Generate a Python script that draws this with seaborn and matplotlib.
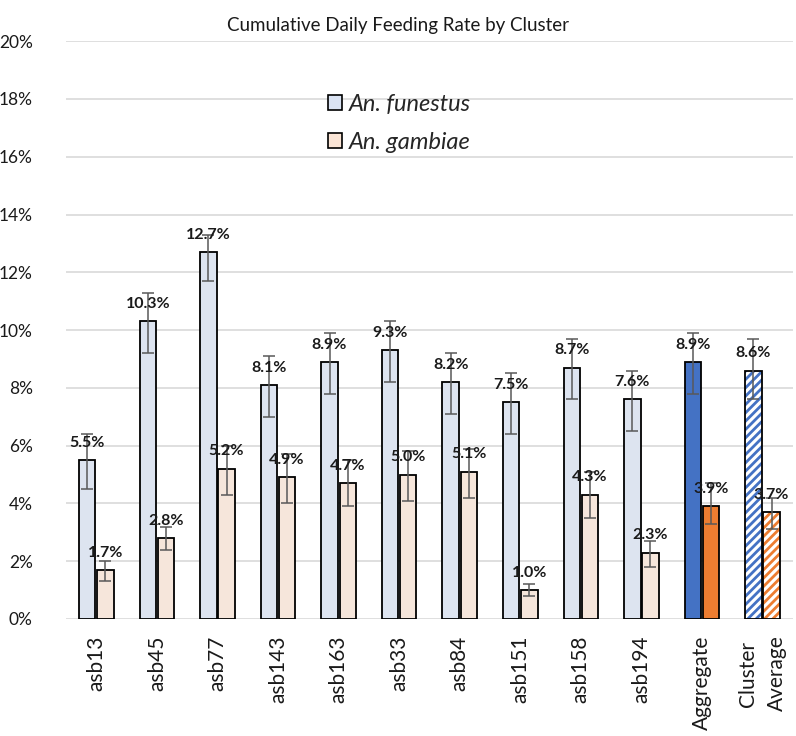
import pandas as pd
import seaborn as sns
import matplotlib.pyplot as plt
from matplotlib.patches import Patch
from matplotlib.ticker import PercentFormatter

# valores (%)
clusters = ['asb13', 'asb45', 'asb77', 'asb143', 'asb163', 'asb33', 'asb84',
            'asb151', 'asb158', 'asb194', 'Aggregate', 'Cluster\nAverage']
especies = ['An. funestus', 'An. gambiae']

funestus = [5.5, 10.3, 12.7, 8.1, 8.9, 9.3, 8.2, 7.5, 8.7, 7.6, 8.9, 8.6]
funestus_low = [4.5, 9.2, 11.7, 7.0, 7.8, 8.2, 7.1, 6.4, 7.6, 6.5, 7.8, 7.6]
funestus_high = [6.4, 11.3, 13.3, 9.1, 9.9, 10.3, 9.2, 8.5, 9.7, 8.6, 9.9, 9.7]

gambiae = [1.7, 2.8, 5.2, 4.9, 4.7, 5.0, 5.1, 1.0, 4.3, 2.3, 3.9, 3.7]
gambiae_low = [1.3, 2.4, 4.3, 4.0, 3.9, 4.1, 4.2, 0.8, 3.5, 1.8, 3.3, 3.1]
gambiae_high = [2.0, 3.2, 6.0, 5.7, 5.5, 5.8, 5.9, 1.2, 5.1, 2.7, 4.7, 4.2]

cores = ['#DAE3F3', '#FBE5D6']
cores_fortes = ['#4472C4', '#ED7D31']

df = pd.DataFrame({
    'cluster': clusters * 2,
    'especie': [especies[0]] * len(clusters) + [especies[1]] * len(clusters),
    'valor': funestus + gambiae,
})

sns.set_style('white')
plt.rcParams['font.family'] = ['Lato', 'DejaVu Sans']
plt.rcParams['hatch.linewidth'] = 2.0

fig = plt.figure(figsize=(7.96, 7.36), dpi=100)
ax = fig.add_axes([0.083, 0.159, 0.913, 0.785])

sns.barplot(data=df, x='cluster', y='valor', hue='especie', order=clusters,
            hue_order=especies, palette=cores, width=0.6, gap=0.1,
            errorbar=None, edgecolor='black', linewidth=1.3, legend=False, ax=ax)

lows = [funestus_low, gambiae_low]
highs = [funestus_high, gambiae_high]
vals = [funestus, gambiae]

barras = list(ax.containers)
for i, cont in enumerate(barras):
    for j, bar in enumerate(cont):
        x = bar.get_x() + bar.get_width() / 2
        v = vals[i][j]
        # barras Aggregate e Cluster Average
        if clusters[j] == 'Aggregate':
            bar.set_facecolor(cores_fortes[i])
        elif clusters[j] == 'Cluster\nAverage':
            bar.set_facecolor('white')
            bar.set_hatch('////')
            bar.set_edgecolor(cores_fortes[i])
            bar.set_linewidth(0)
            # contorno preto por cima da hachura
            ax.bar(x, v, width=bar.get_width(), fill=False,
                   edgecolor='black', linewidth=1.3, zorder=2.5)
        ax.errorbar(x, v, yerr=[[v - lows[i][j]], [highs[i][j] - v]],
                    fmt='none', ecolor='#595959', elinewidth=1.1, capsize=4,
                    capthick=1.1, zorder=3)
        ax.text(x, v + 0.6, f'{v:.1f}%', ha='center', va='center',
                fontsize=11.5, fontweight='bold', color='#1a1a1a', zorder=4)

ax.set_ylim(0, 20)
ax.set_yticks(range(0, 21, 2))
ax.yaxis.set_major_formatter(PercentFormatter(decimals=0))
ax.yaxis.grid(True, color='#D9D9D9', linewidth=1.2)
ax.set_axisbelow(True)
ax.set_xlim(-0.5, len(clusters) - 0.5)
for s in ax.spines.values():
    s.set_visible(False)

ax.set_xlabel('')
ax.set_ylabel('')
ax.tick_params(axis='x', labelsize=15, rotation=90, length=0, pad=12, colors='#1a1a1a')
ax.tick_params(axis='y', labelsize=12.5, length=0, pad=24, colors='#1a1a1a')
for lab in ax.get_xticklabels():
    lab.set_linespacing(1.6)

fig.suptitle('Cumulative Daily Feeding Rate by Cluster', x=0.5, y=0.977,
             fontsize=13.5, color='#1a1a1a')

handles = [Patch(facecolor=c, edgecolor='black', linewidth=1.2) for c in cores]
leg = ax.legend(handles, especies, loc='center left',
                bbox_to_anchor=(0.36, 0.858), frameon=False,
                prop={'style': 'italic', 'size': 17}, handlelength=0.6,
                handleheight=0.6, labelspacing=0.7, handletextpad=0.3,
                borderpad=0, borderaxespad=0)

fig.savefig('out.png', dpi=100)
